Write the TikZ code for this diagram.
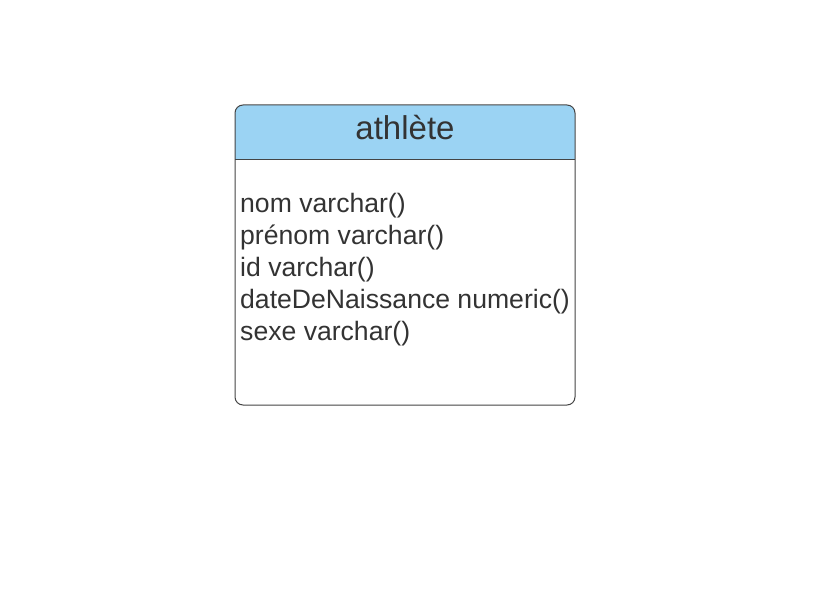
\documentclass[tikz,border=0pt]{standalone}
\usepackage{fontspec}
\setmainfont{Liberation Sans}
\usetikzlibrary{positioning}
\definecolor{hdrblue}{HTML}{9BD3F3}
\definecolor{inkgray}{HTML}{333333}
\definecolor{edgegray}{HTML}{444444}
\tikzset{%
	entity/.style = {draw=edgegray, line width=1pt, rounded corners=8pt}, % table outline
	title/.style  = {text=inkgray, font=\fontsize{33}{38}\selectfont, inner sep=0pt, anchor=base},
	attr/.style   = {text=inkgray, font=\fontsize{26.6}{32}\selectfont, inner sep=0pt, anchor=base west},
}
\begin{document}
\begin{tikzpicture}[x=1pt,y=-1pt]
	\useasboundingbox (0,0) rectangle (819,604);
	% header band
	\begin{scope}
		\clip[rounded corners=8pt] (235,105) rectangle (575,405);
		\fill[hdrblue] (235,105) rectangle (575,160);
	\end{scope}
	\draw[entity] (235,105) rectangle (575,405);
	\draw[draw=edgegray, line width=1pt] (235,160) -- (575,160);
	
	\node [title] (ath) at (405,140) {athlète};
	\node [attr] (nom) at (240,212) {nom varchar()};
	\node [attr] (prenom) at ([yshift=-32pt]nom.base west) {prénom varchar()};
	\node [attr] (id) at ([yshift=-32pt]prenom.base west) {id varchar()};
	\node [attr] (ddn) at ([yshift=-32pt]id.base west) {dateDeNaissance numeric()};
	\node [attr] (sexe) at ([yshift=-32pt]ddn.base west) {sexe varchar()};
\end{tikzpicture}
\end{document}
